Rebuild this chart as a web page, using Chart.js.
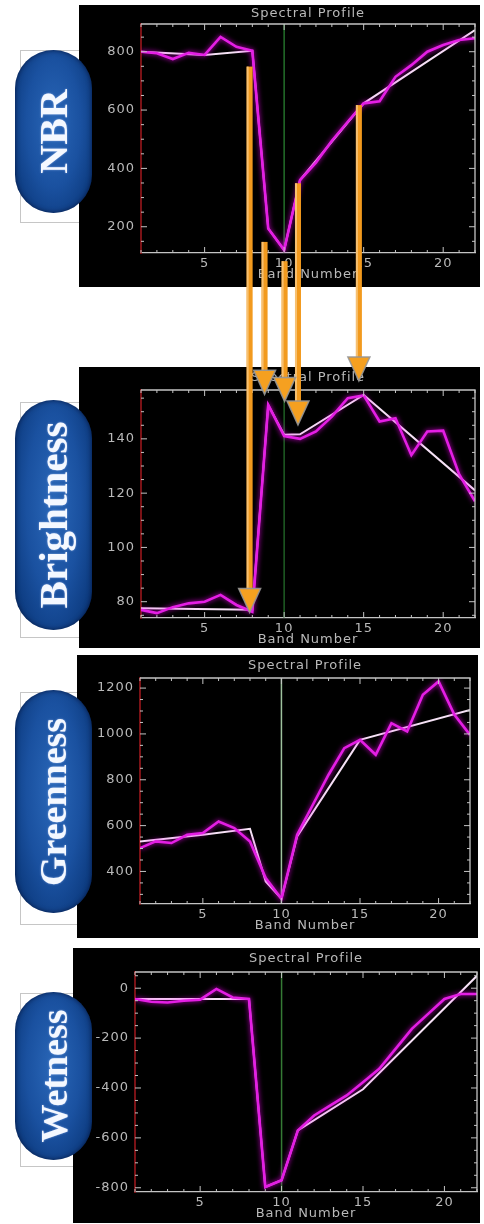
<!DOCTYPE html>
<html>
<head>
<meta charset="utf-8">
<script src="https://cdn.jsdelivr.net/npm/chart.js@4.4.0/dist/chart.umd.min.js"></script>
<style>
html,body{margin:0;padding:0;background:#fff;}
body{width:484px;height:1224px;position:relative;overflow:hidden;font-family:"DejaVu Sans",sans-serif;}
.panel{position:absolute;background:#000;}
.panel canvas{display:block;}
.card{position:absolute;background:#fff;border:1px solid #c6c6c6;box-sizing:border-box;}
.pill{position:absolute;border-radius:39px;display:flex;align-items:center;justify-content:center;
  background:radial-gradient(ellipse at 50% 45%, #2a67b8 0%, #1a51a0 50%, #0c3a7e 85%, #082d66 100%);
  box-shadow:inset 0 0 5px rgba(0,10,40,.7);}
.pill span{transform:rotate(-90deg);white-space:nowrap;color:#f4f8ff;font-family:"Liberation Serif","DejaVu Serif",serif;font-weight:bold;text-shadow:0 0 2px rgba(190,210,255,.7);}
#arrows{position:absolute;left:0;top:0;pointer-events:none;}
</style>
</head>
<body>

<div class="card" style="left:20px;top:50px;width:62px;height:173px"></div>
<div class="card" style="left:20px;top:402px;width:62px;height:236px"></div>
<div class="card" style="left:20px;top:692px;width:60px;height:233px"></div>
<div class="card" style="left:20px;top:993px;width:56px;height:174px"></div>

<div class="panel" style="left:79px;top:5px;width:401px;height:282px"><canvas id="nbr"></canvas></div>
<div class="panel" style="left:79px;top:367px;width:401px;height:281px"><canvas id="bright"></canvas></div>
<div class="panel" style="left:77px;top:655px;width:401px;height:283px"><canvas id="green"></canvas></div>
<div class="panel" style="left:73px;top:948px;width:407px;height:275px"><canvas id="wet"></canvas></div>

<div class="pill" style="left:15px;top:50px;width:77px;height:163px"><span style="font-size:40px">NBR</span></div>
<div class="pill" style="left:15px;top:400px;width:77px;height:230px"><span style="font-size:41px">Brightness</span></div>
<div class="pill" style="left:15px;top:690px;width:77px;height:223px"><span style="font-size:38px">Greenness</span></div>
<div class="pill" style="left:15px;top:992px;width:77px;height:168px"><span style="font-size:38px">Wetness</span></div>

<canvas id="arrows" width="484" height="1224"></canvas>

<script>
// band numbers on the x axis
const bands = [1,2,3,4,5,6,7,8,9,10,11,12,13,14,15,16,17,18,19,20,21,22];
const xTicks = [5,10,15,20];
const markerBand = 10;

// NBR
const nbrRaw = [800,795,775,796,789,851,817,803,194,120,360,420,495,560,623,630,714,754,800,823,840,846];
const nbrFitBands = [1,5,8,9,10,11,15,22];
const nbrFit = [800,789,803,194,120,360,623,874];
const nbrTicks = [200,400,600,800];

// Brightness
const brightRaw = [77,75.8,78,79.4,80,82.5,78.8,76.3,152.5,141,140,142.7,148.2,155,156,146.4,147.6,134,142.7,143,127,117];
const brightFitBands = [1,8,9,10,11,15,22];
const brightFit = [77.6,77,152.5,141.5,141.7,156.2,121];
const brightTicks = [80,100,120,140];

// Greenness
const greenRaw = [502,531,524,560,568,618,589,531,371,281,560,691,822,938,974,909,1047,1011,1171,1229,1084,996];
const greenFitBands = [1,5,8,9,10,11,15,22];
const greenFit = [531,560,586,356,281,553,974,1105];
const greenTicks = [400,600,800,1000,1200];

// Wetness
const wetRaw = [-43,-54,-57,-50,-46,-3,-37,-43,-797,-770,-570,-510,-470,-430,-377,-323,-243,-163,-103,-43,-23,-23];
const wetFitBands = [1,8,9,10,11,15,22];
const wetFit = [-43,-43,-797,-770,-570,-405,50];
const wetTicks = [-800,-600,-400,-200,0];

// orange arrows: band, start value on NBR, tip value on Brightness
const arrowBands = [7.83,8.77,10.03,10.87,14.7];
const arrowFromNbr = [749,148,82,349,617];
const arrowToBright = [76,156.4,153.8,145.1,161.3];

const TXT = "#b9b9b9";

const idlFrame = {
  id: "idlFrame",
  beforeDraw(chart){
    chart.ctx.letterSpacing = "1px";
  },
  beforeDatasetsDraw(chart, args, o){
    const {ctx, chartArea:a, scales} = chart;
    const gx = scales.x.getPixelForValue(markerBand);
    ctx.save();
    ctx.strokeStyle = o.green;
    ctx.lineWidth = 1.5;
    ctx.beginPath(); ctx.moveTo(gx, a.top); ctx.lineTo(gx, a.bottom); ctx.stroke();
    ctx.restore();
  },
  beforeDatasetDraw(chart, args){
    if (args.index === 0){
      chart.ctx.save();
      chart.ctx.shadowColor = "rgba(235,0,235,0.9)";
      chart.ctx.shadowBlur = 5;
    }
  },
  afterDatasetDraw(chart, args){
    if (args.index === 0) chart.ctx.restore();
  },
  afterDraw(chart, args, o){
    const {ctx, chartArea:a, scales} = chart;
    ctx.save();
    ctx.strokeStyle = "#c4c4c4";
    ctx.lineWidth = 1.3;
    ctx.beginPath();
    ctx.moveTo(a.left, a.top); ctx.lineTo(a.right, a.top); ctx.lineTo(a.right, a.bottom);
    ctx.stroke();
    ctx.lineWidth = 1;
    ctx.beginPath();
    bands.forEach(b => {
      const x = scales.x.getPixelForValue(b);
      const len = xTicks.includes(b) ? 6 : 3;
      ctx.moveTo(x, a.bottom); ctx.lineTo(x, a.bottom - len);
      ctx.moveTo(x, a.top); ctx.lineTo(x, a.top + len);
    });
    const ys = scales.y;
    for (let v = Math.ceil(ys.min / o.minor) * o.minor; v <= ys.max; v += o.minor){
      const y = ys.getPixelForValue(v);
      const len = o.ticks.includes(v) ? 6 : 3;
      ctx.moveTo(a.right, y); ctx.lineTo(a.right - len, y);
      ctx.moveTo(a.left, y); ctx.lineTo(a.left + len, y);
    }
    ctx.stroke();
    ctx.fillStyle = TXT;
    ctx.font = "13px 'DejaVu Sans'";
    ctx.textAlign = "center";
    ctx.textBaseline = "middle";
    const cx = (a.left + a.right) / 2;
    ctx.fillText("Spectral Profile", cx, a.top / 2 - 1);
    ctx.fillText("Band Number", cx, a.bottom + 22);
    ctx.restore();
  }
};

function makeProfile(id, box, raw, fitBands, fit, yMin, yMax, ticks, minor, green){
  const rawPts = bands.map((b, i) => ({x: b, y: raw[i]}));
  const fitPts = fitBands.map((b, i) => ({x: b, y: fit[i]}));
  const el = document.getElementById(id);
  el.width = box.w; el.height = box.h;
  return new Chart(el, {
    type: "line",
    data: {
      datasets: [
        { data: rawPts, borderColor: "#e41ee4", borderWidth: 2.6, pointRadius: 0, tension: 0 },
        { data: fitPts, borderColor: "#f6e2f6", borderWidth: 2, pointRadius: 0, tension: 0 }
      ]
    },
    options: {
      responsive: false,
      animation: false,
      events: [],
      layout: { padding: { top: box.pt, right: box.pr, left: 0, bottom: 0 } },
      plugins: {
        legend: { display: false },
        tooltip: { enabled: false },
        idlFrame: { green: green, minor: minor, ticks: ticks }
      },
      scales: {
        x: {
          type: "linear", min: 1, max: 22,
          afterBuildTicks: s => { s.ticks = xTicks.map(v => ({value: v})); },
          afterFit: s => { s.height = box.xh; },
          grid: { display: false, drawTicks: false },
          border: { display: true, color: "#c4c4c4", width: 1.3 },
          ticks: { color: TXT, padding: 3, maxRotation: 0, font: { size: 13, family: "DejaVu Sans" },
                   callback: v => String(v) }
        },
        y: {
          type: "linear", min: yMin, max: yMax,
          afterBuildTicks: s => { s.ticks = ticks.map(v => ({value: v})); },
          afterFit: s => { s.width = box.yw; },
          grid: { display: false, drawTicks: false },
          border: { display: true, color: "#7a1216", width: 2, dash: [2, 3] },
          ticks: { color: TXT, padding: 6, font: { size: 13, family: "DejaVu Sans" },
                   callback: v => String(v) }
        }
      }
    },
    plugins: [idlFrame]
  });
}

const nbrBox = {left:79, top:5, w:401, h:282, pt:19, pr:5, yw:62, xh:34};
const brBox = {left:79, top:367, w:401, h:281, pt:23, pr:5, yw:62, xh:30};
const grBox = {left:77, top:655, w:401, h:283, pt:23, pr:8, yw:63, xh:34};
const wtBox = {left:73, top:948, w:407, h:275, pt:24, pr:3, yw:62, xh:31};

const nbrChart = makeProfile("nbr", nbrBox, nbrRaw, nbrFitBands, nbrFit, 110, 895, nbrTicks, 50, "#23702a");
const brChart = makeProfile("bright", brBox, brightRaw, brightFitBands, brightFit, 74, 158, brightTicks, 5, "#1f5e24");
const grChart = makeProfile("green", grBox, greenRaw, greenFitBands, greenFit, 258, 1244, greenTicks, 50, "#9fc29f");
const wtChart = makeProfile("wet", wtBox, wetRaw, wetFitBands, wetFit, -817, 65, wetTicks, 50, "#357a35");

function drawArrows(){
  const ctx = document.getElementById("arrows").getContext("2d");
  const pos = arrowBands.map((b, i) => ({
    x: nbrBox.left + nbrChart.scales.x.getPixelForValue(b),
    y0: nbrBox.top + nbrChart.scales.y.getPixelForValue(arrowFromNbr[i]),
    y1: brBox.top + brChart.scales.y.getPixelForValue(arrowToBright[i])
  }));
  const hw = 11, hh = 24;
  pos.forEach(p => {
    ctx.fillStyle = "#f29a1e";
    ctx.fillRect(p.x - 3, p.y0, 6, p.y1 - hh + 2 - p.y0);
    ctx.fillStyle = "#f7c070";
    ctx.fillRect(p.x - 3, p.y0, 2, p.y1 - hh + 2 - p.y0);
  });
  pos.forEach(p => {
    ctx.beginPath();
    ctx.moveTo(p.x - hw, p.y1 - hh);
    ctx.lineTo(p.x + hw, p.y1 - hh);
    ctx.lineTo(p.x, p.y1);
    ctx.closePath();
    ctx.fillStyle = "#f5a020";
    ctx.fill();
    ctx.strokeStyle = "rgba(150,150,150,0.9)";
    ctx.lineWidth = 1.5;
    ctx.stroke();
  });
}
drawArrows();
</script>
</body>
</html>
